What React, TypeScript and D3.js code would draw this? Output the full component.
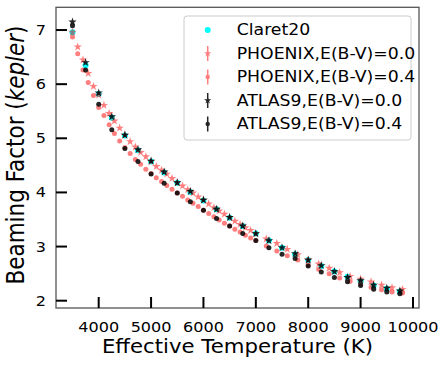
import React, { useEffect, useRef } from "react";
import * as d3 from "d3";

// effective temperatures of the model grids (K)
const TEFF_ATLAS = [3500, 3750, 4000, 4250, 4500, 4750, 5000, 5250, 5500, 5750, 6000, 6250, 6500,
  6750, 7000, 7250, 7500, 7750, 8000, 8250, 8500, 8750, 9000, 9250, 9500, 9750];
const TEFF_PHOENIX = [3500, 3600, 3700, 3800, 3900, 4000, 4100, 4200, 4300, 4400, 4500, 4600, 4700,
  4800, 4900, 5000, 5100, 5200, 5300, 5400, 5500, 5600, 5700, 5800, 5900, 6000, 6100, 6200, 6300,
  6400, 6500, 6600, 6700, 6800, 6900, 7000, 7200, 7400, 7600, 7800, 8000, 8200, 8400, 8600, 8800,
  9000, 9200, 9400, 9600, 9800];

// beaming factors
const CLARET20 = [6.96, 6.35, 5.82, 5.38, 5.05, 4.78, 4.57, 4.37, 4.18, 4.01, 3.85, 3.69, 3.53,
  3.38, 3.24, 3.11, 2.98, 2.86, 2.75, 2.64, 2.54, 2.44, 2.36, 2.28, 2.22, 2.17];
const ATLAS_E00 = [7.15, 6.40, 5.84, 5.40, 5.06, 4.79, 4.58, 4.38, 4.18, 4.02, 3.86, 3.69, 3.54,
  3.38, 3.24, 3.11, 2.98, 2.87, 2.75, 2.65, 2.54, 2.43, 2.37, 2.29, 2.23, 2.18];
const ATLAS_E04 = [7.08, 6.26, 5.63, 5.16, 4.81, 4.57, 4.34, 4.17, 3.99, 3.83, 3.67, 3.52, 3.38,
  3.24, 3.11, 2.98, 2.86, 2.78, 2.64, 2.53, 2.43, 2.35, 2.28, 2.21, 2.16, 2.13];
const PHOENIX_E00 = [6.96, 6.69, 6.45, 6.20, 5.96, 5.80, 5.61, 5.46, 5.32, 5.19, 5.06, 4.94, 4.84,
  4.74, 4.66, 4.57, 4.48, 4.41, 4.34, 4.26, 4.18, 4.12, 4.05, 3.99, 3.92, 3.86, 3.79, 3.72, 3.66,
  3.60, 3.54, 3.47, 3.41, 3.35, 3.30, 3.24, 3.14, 3.06, 2.95, 2.85, 2.76, 2.68, 2.60, 2.52, 2.45,
  2.40, 2.35, 2.29, 2.24, 2.21];
const PHOENIX_E04 = [6.87, 6.56, 6.26, 6.03, 5.79, 5.57, 5.42, 5.25, 5.09, 4.95, 4.83, 4.72, 4.61,
  4.52, 4.43, 4.35, 4.27, 4.20, 4.13, 4.06, 3.99, 3.93, 3.86, 3.80, 3.74, 3.67, 3.61, 3.55, 3.49,
  3.43, 3.38, 3.32, 3.27, 3.21, 3.16, 3.11, 3.01, 2.92, 2.83, 2.75, 2.66, 2.58, 2.50, 2.42, 2.36,
  2.31, 2.25, 2.20, 2.16, 2.14];
const ERR = 0.03;

const X_TICKS = [4000, 5000, 6000, 7000, 8000, 9000, 10000];
const Y_TICKS = [2, 3, 4, 5, 6, 7];
const LEGEND = ["Claret20", "PHOENIX,E(B-V)=0.0", "PHOENIX,E(B-V)=0.4", "ATLAS9,E(B-V)=0.0", "ATLAS9,E(B-V)=0.4"];

const App = () => {
  const ref = useRef<SVGSVGElement>(null);

  useEffect(() => {
    const width = 447;
    const height = 368;
    const margin = { top: 7.3, right: 28, bottom: 60, left: 56 };
    const font = "DejaVu Sans";
    const sx = 1.13; // text looks stretched sideways in the picture

    d3.select(ref.current).selectAll("*").remove();
    const svg = d3.select(ref.current).attr("width", width).attr("height", height);

    const x = d3.scaleLinear().domain([3185, 10115]).range([margin.left, width - margin.right]);
    const y = d3.scaleLinear().domain([1.865, 7.42]).range([height - margin.bottom, margin.top]);

    const text = (tx: number, ty: number, s: string, size: number, anchor: string, extra = "") =>
      svg.append("text")
        .attr("transform", `translate(${tx},${ty}) scale(${sx},1)${extra}`)
        .attr("font-family", font)
        .attr("font-size", size)
        .attr("text-anchor", anchor)
        .attr("fill", "#000")
        .text(s);

    const star = d3.symbol().type(d3.symbolStar).size(22);
    const starLeg = d3.symbol().type(d3.symbolStar).size(16);

    const plot = svg.append("g");

    // Claret20
    plot.selectAll("circle.claret")
      .data(TEFF_ATLAS)
      .enter()
      .append("circle")
      .attr("cx", d => x(d))
      .attr("cy", (d, i) => y(CLARET20[i]))
      .attr("r", 3)
      .attr("fill", "#00ffff");

    const series = (teff: number[], vals: number[], color: string, alpha: number, isStar: boolean) => {
      const g = plot.append("g").attr("opacity", alpha);
      g.selectAll("line")
        .data(teff)
        .enter()
        .append("line")
        .attr("x1", d => x(d))
        .attr("x2", d => x(d))
        .attr("y1", (d, i) => y(vals[i] - ERR))
        .attr("y2", (d, i) => y(vals[i] + ERR))
        .attr("stroke", color)
        .attr("stroke-width", 1.5);
      if (isStar) {
        g.selectAll("path")
          .data(teff)
          .enter()
          .append("path")
          .attr("d", star)
          .attr("transform", (d, i) => `translate(${x(d)},${y(vals[i])})`)
          .attr("fill", color);
      } else {
        g.selectAll("circle")
          .data(teff)
          .enter()
          .append("circle")
          .attr("cx", d => x(d))
          .attr("cy", (d, i) => y(vals[i]))
          .attr("r", 2.5)
          .attr("fill", color);
      }
    };
    series(TEFF_PHOENIX, PHOENIX_E00, "#ff0000", 0.5, true);
    series(TEFF_PHOENIX, PHOENIX_E04, "#ff0000", 0.5, false);
    series(TEFF_ATLAS, ATLAS_E00, "#000000", 0.85, true);
    series(TEFF_ATLAS, ATLAS_E04, "#000000", 0.85, false);

    // frame
    svg.append("rect")
      .attr("x", margin.left)
      .attr("y", margin.top)
      .attr("width", width - margin.right - margin.left)
      .attr("height", height - margin.bottom - margin.top)
      .attr("fill", "none")
      .attr("stroke", "#555")
      .attr("stroke-width", 1.3);

    // ticks, pointing inward
    X_TICKS.forEach(t => {
      svg.append("line")
        .attr("x1", x(t)).attr("x2", x(t))
        .attr("y1", height - margin.bottom).attr("y2", height - margin.bottom - 11)
        .attr("stroke", "#000").attr("stroke-width", 2);
      text(x(t), 332, String(t), 14.2, "middle");
    });
    Y_TICKS.forEach(t => {
      svg.append("line")
        .attr("x1", margin.left).attr("x2", margin.left + 11)
        .attr("y1", y(t)).attr("y2", y(t))
        .attr("stroke", "#000").attr("stroke-width", 2);
      text(46, y(t) + 5, String(t), 14.2, "end");
    });

    text(237.5, 353, "Effective Temperature (K)", 18.8, "middle");
    const yl = text(24, 155, "Beaming Factor (", 21.5, "middle", " rotate(-90)");
    yl.append("tspan").attr("font-style", "italic").text("kepler");
    yl.append("tspan").text(")");

    // legend
    const lg = svg.append("g");
    lg.append("rect")
      .attr("x", 184).attr("y", 16).attr("width", 227).attr("height", 124).attr("rx", 3)
      .attr("fill", "#fff").attr("fill-opacity", 0.8)
      .attr("stroke", "#ccc").attr("stroke-width", 1);
    LEGEND.forEach((name, i) => {
      const ly = 30 + i * 23.5;
      const mx = 207.7;
      if (i === 0) {
        lg.append("circle").attr("cx", mx).attr("cy", ly).attr("r", 3).attr("fill", "#00ffff");
      } else {
        const color = i < 3 ? "#ff0000" : "#000000";
        const g = lg.append("g").attr("opacity", i < 3 ? 0.5 : 0.85);
        g.append("line")
          .attr("x1", mx).attr("x2", mx).attr("y1", ly - 7.5).attr("y2", ly + 7.5)
          .attr("stroke", color).attr("stroke-width", 1.5);
        if (i % 2 === 1) {
          g.append("path").attr("d", starLeg).attr("transform", `translate(${mx},${ly})`).attr("fill", color);
        } else {
          g.append("circle").attr("cx", mx).attr("cy", ly).attr("r", 2.2).attr("fill", color);
        }
      }
      text(236.7, ly + 5.3, name, 15.3, "start");
    });
  }, []);

  return (
    <div style={{ position: "absolute", left: 0, top: 0 }}>
      <svg ref={ref}></svg>
    </div>
  );
};

export default App;
